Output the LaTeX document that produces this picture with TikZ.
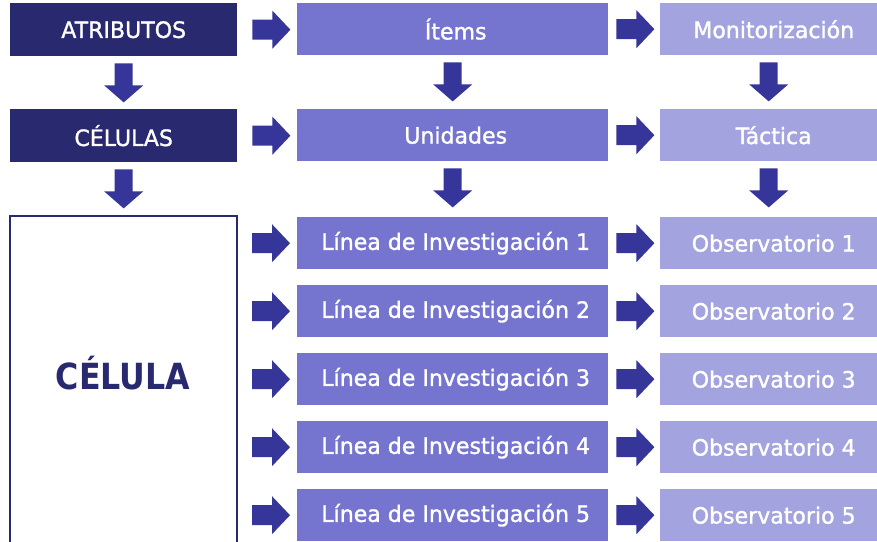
\documentclass[tikz,border=0pt]{standalone}
\usepackage{fontspec}
\setmainfont{DejaVu Sans}[FakeStretch=0.98,FakeBold=1.3]
\newfontfamily\bigfont{DejaVu Sans}[FakeStretch=0.88]
\usetikzlibrary{calc}
\definecolor{navy}{HTML}{29296F}
\definecolor{arr}{HTML}{35359A}
\definecolor{midc}{HTML}{7575D0}
\definecolor{lightc}{HTML}{A3A3DF}
\tikzset{
  x=1pt,y=-1pt,
  box/.style={anchor=north west,inner sep=0pt,text=white,font=\fontsize{22.5}{26}\selectfont},
  navybox/.style={box,fill=navy,minimum width=227pt,minimum height=53pt},
  midbox/.style={box,fill=midc,minimum width=311pt,minimum height=52pt,execute at begin node=\hspace*{6pt}},
  lightbox/.style={box,fill=lightc,minimum width=217pt,minimum height=52pt,execute at begin node=\hspace*{10pt}},
  rarr/.pic={\fill[arr] (0,-10) -- (20,-10) -- (20,-19) -- (38,0) -- (20,19) -- (20,10) -- (0,10) -- cycle;},
  darr/.pic={\fill[arr] (-9,0) -- (9,0) -- (9,22) -- (19.5,22) -- (0,39) -- (-19.5,22) -- (-9,22) -- cycle;},
}
\begin{document}
\begin{tikzpicture}
\useasboundingbox (0,0) rectangle (877,541);
\clip (0,0) rectangle (877,541);
% row 1
\node[navybox] (atr) at (10,3) {ATRIBUTOS};
\node[midbox] (ite) at (297,3) {Ítems};
\node[lightbox] (mon) at (660,3) {Monitorización};
% row 2
\node[navybox] (cels) at (10,109) {CÉLULAS};
\node[midbox] (uni) at (297,109) {Unidades};
\node[lightbox] (tac) at (660,109) {Táctica};
% cell box
\draw[navy,line width=2.5pt] (10,216) rectangle (237,560);
\node[text=navy,font=\bigfont\bfseries\fontsize{36}{40}\selectfont] (cel) at (123,373) {CÉLULA};
% lines
\foreach \i in {1,...,5}{
  \pgfmathsetmacro{\yy}{217+68*(\i-1)}
  \node[midbox] (lin\i) at (297,\yy) {Línea de Investigación \i};
  \node[lightbox] (obs\i) at (660,\yy) {Observatorio \i};
  \pic at ([xshift=-45pt]lin\i.west) {rarr};
  \pic at ([xshift=8pt]lin\i.east) {rarr};
}
% horizontal arrows rows 1-2
\pic at ([xshift=15pt]atr.east) {rarr};
\pic at ([xshift=8pt]ite.east) {rarr};
\pic at ([xshift=15pt]cels.east) {rarr};
\pic at ([xshift=8pt]uni.east) {rarr};
% down arrows
\pic at ([yshift=-7pt]atr.south) {darr};
\pic at ([yshift=-7pt]ite.south) {darr};
\pic at ([yshift=-7pt]mon.south) {darr};
\pic at ([yshift=-7pt]cels.south) {darr};
\pic at ([yshift=-7pt]uni.south) {darr};
\pic at ([yshift=-7pt]tac.south) {darr};
\end{tikzpicture}
\end{document}
